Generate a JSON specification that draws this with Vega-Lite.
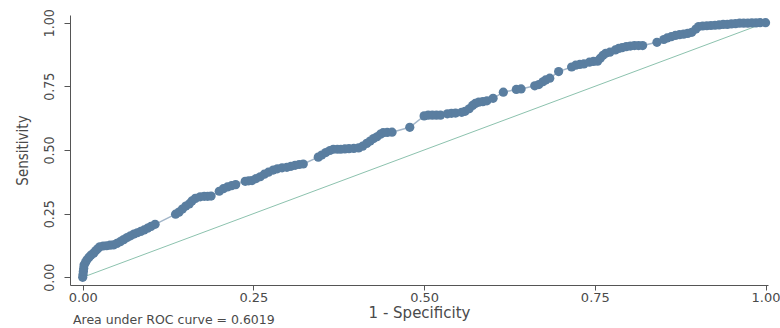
{
  "$schema": "https://vega.github.io/schema/vega-lite/v6.json",
  "width": 698,
  "height": 270,
  "autosize": {"type": "none"},
  "padding": {"left": 70, "top": 15, "right": 12, "bottom": 43},
  "background": "white",
  "config": {
    "view": {"stroke": null},
    "axis": {"grid": false, "domainColor": "#555555", "tickColor": "#555555", "labelColor": "#4a4a4a", "titleColor": "#4a4a4a", "titleFontWeight": "normal"}
  },
  "title": {"text": "Area under ROC curve = 0.6019", "orient": "bottom", "anchor": "start", "frame": "group", "font": "DejaVu Sans", "fontSize": 12.5, "fontWeight": "normal", "color": "#4a4a4a", "offset": -6, "dx": 3},
  "datasets": {
    "ref": [{"x": 0, "y": 0}, {"x": 1, "y": 1}],
    "roc": [
      {"x": 0, "y": 0}, {"x": 0.0005, "y": 0.012}, {"x": 0.001, "y": 0.024}, {"x": 0.0015, "y": 0.036}, {"x": 0.002, "y": 0.048},
      {"x": 0.004, "y": 0.058}, {"x": 0.006, "y": 0.068}, {"x": 0.009, "y": 0.078}, {"x": 0.012, "y": 0.087}, {"x": 0.016, "y": 0.095},
      {"x": 0.019, "y": 0.104}, {"x": 0.022, "y": 0.112}, {"x": 0.025, "y": 0.12},
      {"x": 0.03, "y": 0.123}, {"x": 0.035, "y": 0.124}, {"x": 0.04, "y": 0.126}, {"x": 0.045, "y": 0.127}, {"x": 0.05, "y": 0.133},
      {"x": 0.055, "y": 0.14}, {"x": 0.06, "y": 0.148}, {"x": 0.065, "y": 0.156}, {"x": 0.07, "y": 0.163}, {"x": 0.075, "y": 0.17},
      {"x": 0.08, "y": 0.175}, {"x": 0.085, "y": 0.18}, {"x": 0.09, "y": 0.186}, {"x": 0.095, "y": 0.193}, {"x": 0.1, "y": 0.2}, {"x": 0.106, "y": 0.208},
      {"x": 0.136, "y": 0.248}, {"x": 0.141, "y": 0.256}, {"x": 0.146, "y": 0.268}, {"x": 0.151, "y": 0.28}, {"x": 0.156, "y": 0.288},
      {"x": 0.16, "y": 0.3}, {"x": 0.165, "y": 0.31}, {"x": 0.172, "y": 0.316}, {"x": 0.178, "y": 0.318}, {"x": 0.183, "y": 0.318}, {"x": 0.188, "y": 0.319},
      {"x": 0.2, "y": 0.338}, {"x": 0.206, "y": 0.348}, {"x": 0.212, "y": 0.355}, {"x": 0.218, "y": 0.36}, {"x": 0.224, "y": 0.364},
      {"x": 0.238, "y": 0.377}, {"x": 0.243, "y": 0.379}, {"x": 0.248, "y": 0.38}, {"x": 0.254, "y": 0.388}, {"x": 0.26, "y": 0.395},
      {"x": 0.266, "y": 0.405}, {"x": 0.272, "y": 0.413}, {"x": 0.279, "y": 0.421}, {"x": 0.285, "y": 0.426}, {"x": 0.292, "y": 0.43},
      {"x": 0.299, "y": 0.432}, {"x": 0.305, "y": 0.436}, {"x": 0.311, "y": 0.44}, {"x": 0.317, "y": 0.443}, {"x": 0.323, "y": 0.445},
      {"x": 0.345, "y": 0.472}, {"x": 0.35, "y": 0.48}, {"x": 0.356, "y": 0.49}, {"x": 0.362, "y": 0.498}, {"x": 0.367, "y": 0.503},
      {"x": 0.373, "y": 0.503}, {"x": 0.378, "y": 0.503}, {"x": 0.384, "y": 0.504}, {"x": 0.39, "y": 0.505}, {"x": 0.397, "y": 0.506},
      {"x": 0.404, "y": 0.508}, {"x": 0.41, "y": 0.515}, {"x": 0.416, "y": 0.526}, {"x": 0.421, "y": 0.535}, {"x": 0.426, "y": 0.545},
      {"x": 0.431, "y": 0.552}, {"x": 0.436, "y": 0.562}, {"x": 0.44, "y": 0.568}, {"x": 0.446, "y": 0.569}, {"x": 0.453, "y": 0.57},
      {"x": 0.479, "y": 0.589},
      {"x": 0.5, "y": 0.634}, {"x": 0.506, "y": 0.637}, {"x": 0.512, "y": 0.637}, {"x": 0.518, "y": 0.637}, {"x": 0.524, "y": 0.637},
      {"x": 0.534, "y": 0.642}, {"x": 0.54, "y": 0.644}, {"x": 0.546, "y": 0.645},
      {"x": 0.555, "y": 0.648}, {"x": 0.56, "y": 0.652}, {"x": 0.566, "y": 0.662}, {"x": 0.571, "y": 0.675}, {"x": 0.575, "y": 0.683},
      {"x": 0.58, "y": 0.688}, {"x": 0.586, "y": 0.69}, {"x": 0.592, "y": 0.693},
      {"x": 0.601, "y": 0.703}, {"x": 0.616, "y": 0.727},
      {"x": 0.635, "y": 0.738}, {"x": 0.642, "y": 0.74},
      {"x": 0.662, "y": 0.752}, {"x": 0.668, "y": 0.757}, {"x": 0.674, "y": 0.768}, {"x": 0.678, "y": 0.775}, {"x": 0.684, "y": 0.782},
      {"x": 0.697, "y": 0.808},
      {"x": 0.716, "y": 0.826}, {"x": 0.722, "y": 0.833}, {"x": 0.728, "y": 0.836}, {"x": 0.734, "y": 0.838},
      {"x": 0.742, "y": 0.845}, {"x": 0.748, "y": 0.848}, {"x": 0.754, "y": 0.849},
      {"x": 0.758, "y": 0.86}, {"x": 0.762, "y": 0.872}, {"x": 0.766, "y": 0.88}, {"x": 0.772, "y": 0.884},
      {"x": 0.78, "y": 0.893}, {"x": 0.785, "y": 0.899}, {"x": 0.79, "y": 0.902}, {"x": 0.796, "y": 0.906}, {"x": 0.802, "y": 0.908},
      {"x": 0.808, "y": 0.91}, {"x": 0.814, "y": 0.91}, {"x": 0.82, "y": 0.91},
      {"x": 0.841, "y": 0.923},
      {"x": 0.851, "y": 0.934}, {"x": 0.856, "y": 0.94}, {"x": 0.862, "y": 0.945}, {"x": 0.868, "y": 0.95}, {"x": 0.874, "y": 0.953},
      {"x": 0.88, "y": 0.955}, {"x": 0.886, "y": 0.958}, {"x": 0.892, "y": 0.962},
      {"x": 0.898, "y": 0.975}, {"x": 0.902, "y": 0.985}, {"x": 0.908, "y": 0.987}, {"x": 0.914, "y": 0.988}, {"x": 0.92, "y": 0.989},
      {"x": 0.926, "y": 0.99}, {"x": 0.932, "y": 0.991}, {"x": 0.938, "y": 0.993}, {"x": 0.944, "y": 0.993}, {"x": 0.95, "y": 0.995},
      {"x": 0.956, "y": 0.996}, {"x": 0.962, "y": 0.998}, {"x": 0.968, "y": 0.998}, {"x": 0.974, "y": 0.998}, {"x": 0.98, "y": 0.999},
      {"x": 0.986, "y": 0.999}, {"x": 0.992, "y": 1}, {"x": 1, "y": 1}
    ]
  },
  "encoding": {
    "x": {
      "field": "x", "type": "quantitative",
      "scale": {"domain": [-0.0186, 1.0036], "nice": false, "zero": false},
      "axis": {"values": [0, 0.25, 0.5, 0.75, 1], "format": ".2f", "title": "1 - Specificity", "tickSize": 5, "labelFont": "DejaVu Sans", "labelFontSize": 13, "labelPadding": 1, "titleFont": "DejaVu Sans", "titleFontSize": 15, "titlePadding": 1, "labelFlush": false}
    },
    "y": {
      "field": "y", "type": "quantitative",
      "scale": {"domain": [-0.0302, 1.0302], "nice": false, "zero": false},
      "axis": {"values": [0, 0.25, 0.5, 0.75, 1], "format": ".2f", "title": "Sensitivity", "tickSize": 6, "labelAngle": 270, "labelAlign": "center", "labelBaseline": "bottom", "labelFont": "DejaVu Sans Condensed, Liberation Sans Narrow, DejaVu Sans, sans-serif", "labelFontSize": 14, "labelPadding": 8, "titleFont": "DejaVu Sans Condensed, Liberation Sans Narrow, DejaVu Sans, sans-serif", "titleFontSize": 15, "titlePadding": 12, "labelFlush": false}
    }
  },
  "layer": [
    {"data": {"name": "ref"}, "mark": {"type": "line", "color": "#8cc2ae", "strokeWidth": 1}},
    {"data": {"name": "roc"}, "mark": {"type": "line", "color": "#a3b6c9", "strokeWidth": 1.5}},
    {"data": {"name": "roc"}, "mark": {"type": "point", "filled": true, "shape": "circle", "size": 85, "color": "#5a7ea0", "opacity": 1}}
  ]
}
